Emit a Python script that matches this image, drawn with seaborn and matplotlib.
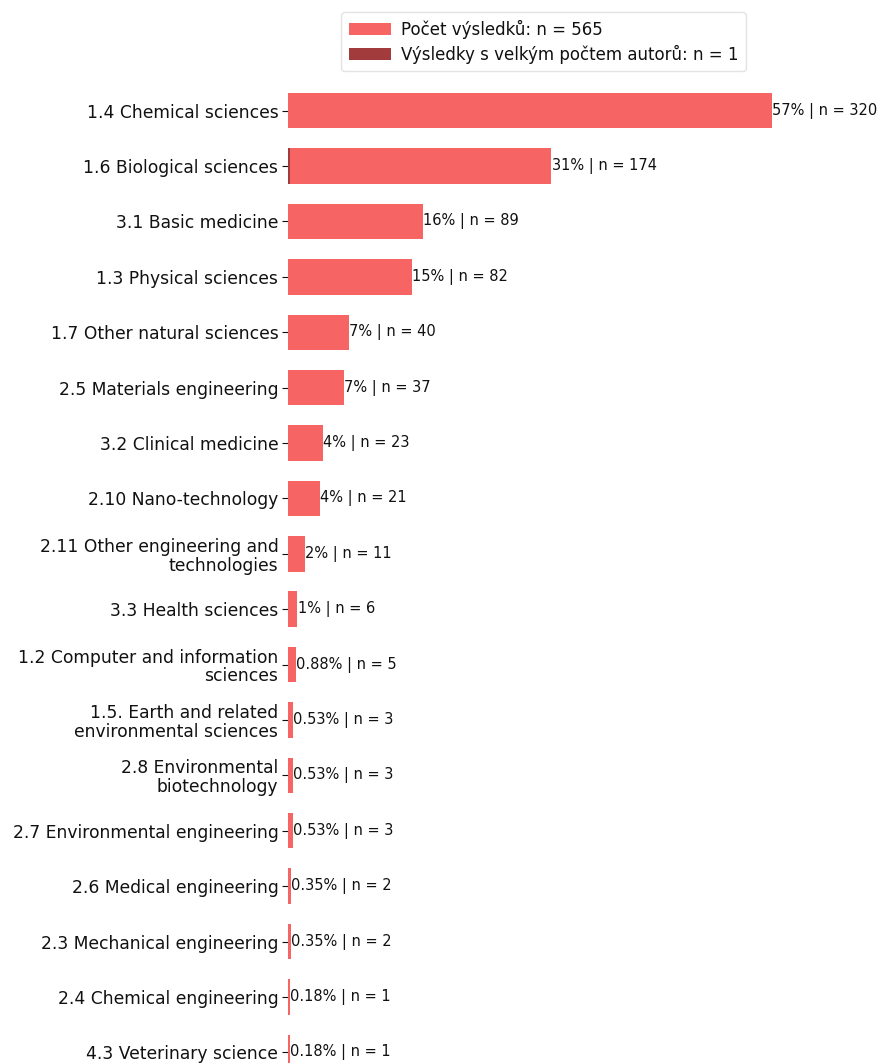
import matplotlib
matplotlib.use("Agg")
import matplotlib.pyplot as plt
import seaborn as sns
import pandas as pd

categories = [
    "1.4 Chemical sciences",
    "1.6 Biological sciences",
    "3.1 Basic medicine",
    "1.3 Physical sciences",
    "1.7 Other natural sciences",
    "2.5 Materials engineering",
    "3.2 Clinical medicine",
    "2.10 Nano-technology",
    "2.11 Other engineering and\ntechnologies",
    "3.3 Health sciences",
    "1.2 Computer and information\nsciences",
    "1.5. Earth and related\nenvironmental sciences",
    "2.8 Environmental\nbiotechnology",
    "2.7 Environmental engineering",
    "2.6 Medical engineering",
    "2.3 Mechanical engineering",
    "2.4 Chemical engineering",
    "4.3 Veterinary science",
]
counts = [320, 174, 89, 82, 40, 37, 23, 21, 11, 6, 5, 3, 3, 3, 2, 2, 1, 1]
many_authors = [0, 1, 0, 0, 0, 0, 0, 0, 0, 0, 0, 0, 0, 0, 0, 0, 0, 0]
total = 565
total_many = 1

main_color = "#F76464"
dark_color = "#A23B3B"

df = pd.DataFrame({"cat": categories, "n": counts, "many": many_authors})

sns.set_style("white")
plt.rcParams["font.family"] = ["DejaVu Sans"]
plt.rcParams["text.color"] = "#111111"
plt.rcParams["ytick.color"] = "#111111"

fig = plt.figure(figsize=(8.8, 10.63), dpi=100)
# axes placed so bars line up with the reference
ax = fig.add_axes([288 / 880, (1063 - 1080) / 1063, (772 - 288) / 880, (1080 - 83) / 1063])

sns.barplot(data=df, x="n", y="cat", color=main_color, width=0.64, ax=ax,
            label=f"Počet výsledků: n = {total}", saturation=1, linewidth=0)
sns.barplot(data=df, x="many", y="cat", color=dark_color, width=0.64, ax=ax,
            label=f"Výsledky s velkým počtem autorů: n = {total_many}", saturation=1,
            linewidth=0)

for i, n in enumerate(counts):
    pct = n / total * 100
    if pct >= 1:
        txt = f"{pct:.0f}% | n = {n}"
    else:
        txt = f"{pct:.2f}% | n = {n}"
    ax.text(n + 0.3, i, txt, va="center", ha="left", fontsize=10.5, clip_on=False)

ax.set_xlim(0, 320)
ax.set_ylim(17.5, -0.5)
ax.set_xlabel("")
ax.set_ylabel("")
ax.set_xticks([])
ax.tick_params(axis="y", labelsize=12.3, length=4, left=True, pad=3)
for lbl in ax.get_yticklabels():
    lbl.set_horizontalalignment("right")
    lbl.set_linespacing(1.05)
for s in ax.spines.values():
    s.set_visible(False)

leg = ax.legend(loc="upper left", bbox_to_anchor=(333 / 880, 1 - 4 / 1063),
                bbox_transform=fig.transFigure, fontsize=12.0, frameon=True,
                handlelength=2.5, borderpad=0.45, labelspacing=0.35, handletextpad=0.6)
leg.get_frame().set_edgecolor("#dddddd")

fig.savefig("out.png", dpi=100)
